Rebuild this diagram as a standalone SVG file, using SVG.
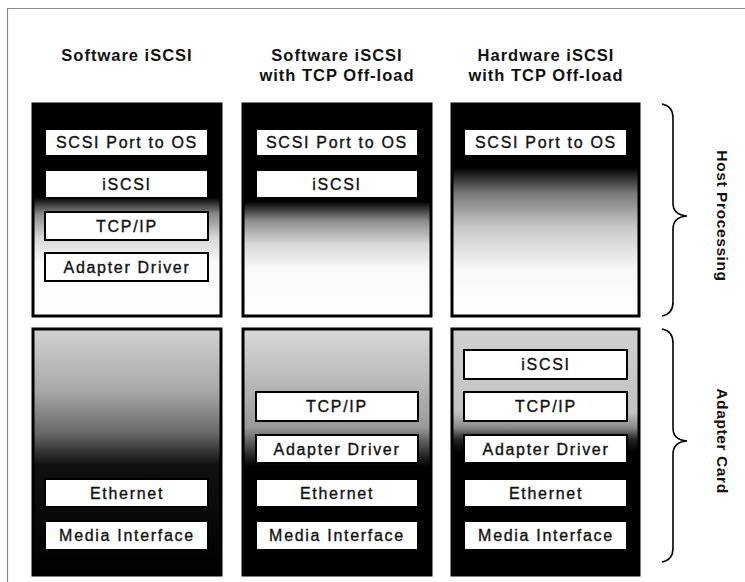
<svg xmlns="http://www.w3.org/2000/svg" width="745" height="582" viewBox="0 0 745 582">
<style>
.hdr{font-family:"Liberation Sans",Arial,sans-serif;font-weight:bold;font-size:16.5px;letter-spacing:1px;fill:#111;text-anchor:middle}
.lbl{font-family:"Liberation Sans",Arial,sans-serif;font-size:16px;letter-spacing:1.7px;fill:#111;stroke:#111;stroke-width:0.35;text-anchor:middle}
.side{font-family:"Liberation Sans",Arial,sans-serif;font-weight:bold;font-size:15.5px;letter-spacing:0.6px;fill:#111;text-anchor:middle}
.sec{stroke:#000;stroke-width:3}
.box{fill:#fff;stroke:#000;stroke-width:2}
.brace{fill:none;stroke:#000;stroke-width:1.6}
</style>
<defs>
<linearGradient id="h1" x1="0" y1="0" x2="0" y2="1">
<stop offset="0" stop-color="#000"/><stop offset="0.44" stop-color="#000"/><stop offset="0.52" stop-color="#8a8a8a"/><stop offset="0.63" stop-color="#d6d6d6"/><stop offset="0.75" stop-color="#fafafa"/><stop offset="1" stop-color="#fff"/>
</linearGradient>
<linearGradient id="h2" x1="0" y1="0" x2="0" y2="1">
<stop offset="0" stop-color="#000"/><stop offset="0.46" stop-color="#000"/><stop offset="0.55" stop-color="#8a8a8a"/><stop offset="0.66" stop-color="#d8d8d8"/><stop offset="0.78" stop-color="#fafafa"/><stop offset="1" stop-color="#fff"/>
</linearGradient>
<linearGradient id="h3" x1="0" y1="0" x2="0" y2="1">
<stop offset="0" stop-color="#000"/><stop offset="0.3" stop-color="#000"/><stop offset="0.42" stop-color="#777"/><stop offset="0.58" stop-color="#c8c8c8"/><stop offset="0.78" stop-color="#f8f8f8"/><stop offset="1" stop-color="#fff"/>
</linearGradient>
<linearGradient id="a1" x1="0" y1="0" x2="0" y2="1">
<stop offset="0" stop-color="#d2d2d2"/><stop offset="0.25" stop-color="#a8a8a8"/><stop offset="0.42" stop-color="#6a6a6a"/><stop offset="0.55" stop-color="#111"/><stop offset="1" stop-color="#000"/>
</linearGradient>
<linearGradient id="a2" x1="0" y1="0" x2="0" y2="1">
<stop offset="0" stop-color="#d8d8d8"/><stop offset="0.22" stop-color="#b8b8b8"/><stop offset="0.4" stop-color="#999"/><stop offset="0.5" stop-color="#333"/><stop offset="0.56" stop-color="#000"/><stop offset="1" stop-color="#000"/>
</linearGradient>
<linearGradient id="a3" x1="0" y1="0" x2="0" y2="1">
<stop offset="0" stop-color="#d0d0d0"/><stop offset="0.34" stop-color="#c2c2c2"/><stop offset="0.4" stop-color="#8a8a8a"/><stop offset="0.45" stop-color="#222"/><stop offset="0.5" stop-color="#000"/><stop offset="1" stop-color="#000"/>
</linearGradient>
</defs>
<rect width="745" height="582" fill="#fff"/>
<path d="M7.5,582 V8.5 H745" fill="none" stroke="#8a8a8a" stroke-width="1.2"/>

<g id="headers">
<text class="hdr" x="127" y="61">Software iSCSI</text>
<text class="hdr" x="337" y="61">Software iSCSI</text>
<text class="hdr" x="337" y="81">with TCP Off-load</text>
<text class="hdr" x="546" y="61">Hardware iSCSI</text>
<text class="hdr" x="546" y="81">with TCP Off-load</text>
</g>

<g id="col1-host">
<rect class="sec" x="33" y="104" width="188" height="212" fill="url(#h1)"/>
<rect class="box" x="45" y="129" width="163" height="27"/><text class="lbl" x="127" y="148">SCSI Port to OS</text>
<rect class="box" x="45" y="170" width="163" height="28"/><text class="lbl" x="127" y="190">iSCSI</text>
<rect class="box" x="45" y="212" width="163" height="28"/><text class="lbl" x="127" y="232">TCP/IP</text>
<rect class="box" x="45" y="253" width="163" height="28"/><text class="lbl" x="127" y="273">Adapter Driver</text>
</g>
<g id="col1-adapter">
<rect class="sec" x="33" y="329" width="188" height="246" fill="url(#a1)"/>
<rect class="box" x="45" y="479" width="163" height="28"/><text class="lbl" x="127" y="499">Ethernet</text>
<rect class="box" x="45" y="521" width="163" height="29"/><text class="lbl" x="127" y="541">Media Interface</text>
</g>

<g id="col2-host">
<rect class="sec" x="243" y="104" width="188" height="212" fill="url(#h2)"/>
<rect class="box" x="256" y="129" width="162" height="27"/><text class="lbl" x="337" y="148">SCSI Port to OS</text>
<rect class="box" x="256" y="170" width="162" height="28"/><text class="lbl" x="337" y="190">iSCSI</text>
</g>
<g id="col2-adapter">
<rect class="sec" x="243" y="329" width="188" height="246" fill="url(#a2)"/>
<rect class="box" x="256" y="392" width="162" height="29"/><text class="lbl" x="337" y="412">TCP/IP</text>
<rect class="box" x="256" y="435" width="162" height="28"/><text class="lbl" x="337" y="455">Adapter Driver</text>
<rect class="box" x="256" y="479" width="162" height="28"/><text class="lbl" x="337" y="499">Ethernet</text>
<rect class="box" x="256" y="521" width="162" height="29"/><text class="lbl" x="337" y="541">Media Interface</text>
</g>

<g id="col3-host">
<rect class="sec" x="452" y="104" width="187" height="212" fill="url(#h3)"/>
<rect class="box" x="464" y="129" width="163" height="27"/><text class="lbl" x="546" y="148">SCSI Port to OS</text>
</g>
<g id="col3-adapter">
<rect class="sec" x="452" y="329" width="187" height="246" fill="url(#a3)"/>
<rect class="box" x="464" y="350" width="163" height="29"/><text class="lbl" x="546" y="370">iSCSI</text>
<rect class="box" x="464" y="392" width="163" height="29"/><text class="lbl" x="546" y="412">TCP/IP</text>
<rect class="box" x="464" y="435" width="163" height="28"/><text class="lbl" x="546" y="455">Adapter Driver</text>
<rect class="box" x="464" y="479" width="163" height="28"/><text class="lbl" x="546" y="499">Ethernet</text>
<rect class="box" x="464" y="521" width="163" height="29"/><text class="lbl" x="546" y="541">Media Interface</text>
</g>

<g id="braces">
<path class="brace" d="M662,104 Q673,106 673,118 V203 Q673,215 687,216 Q673,217 673,229 V302 Q673,314 662,316"/>
<path class="brace" d="M662,329 Q673,331 673,343 V428 Q673,440 687,441 Q673,442 673,454 V548 Q673,560 662,562"/>
</g>

<g id="side-labels">
<text class="side" transform="translate(717,216) rotate(90)">Host Processing</text>
<text class="side" transform="translate(717,441) rotate(90)">Adapter Card</text>
</g>
</svg>
